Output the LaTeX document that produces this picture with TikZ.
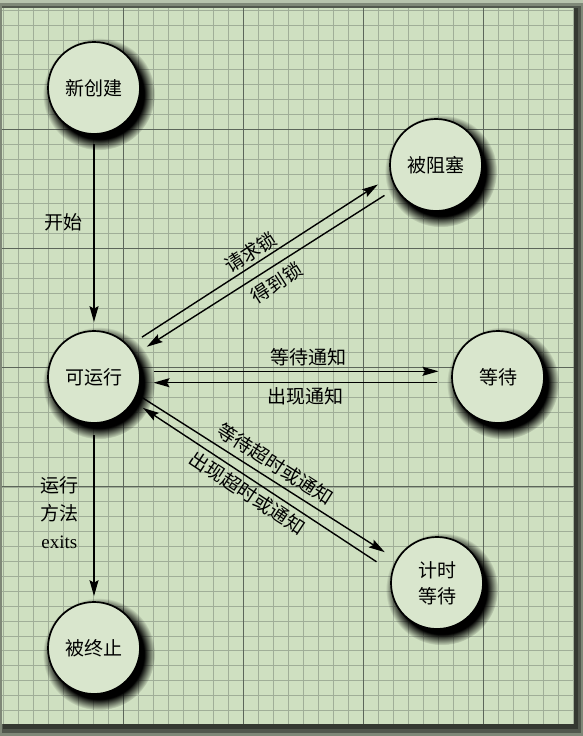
\documentclass[tikz,border=0pt]{standalone}
\usepackage{fontspec}
\setmainfont{Liberation Serif}
\newfontfamily\cjk{Noto Sans CJK SC}
\usetikzlibrary{shadows,arrows.meta}

\definecolor{paper}{RGB}{207,224,193}
\definecolor{minorline}{RGB}{160,174,152}
\definecolor{majorline}{RGB}{92,102,90}

\begin{document}
\begin{tikzpicture}[x=1pt,y=-1pt,
  >={Stealth[length=16pt,width=9pt,inset=2.5pt]},
  state/.style={circle, draw=black, line width=1.7pt, fill=paper!80!white,
    minimum size=92pt, inner sep=0pt, align=center,
    font=\cjk\fontsize{19}{26}\selectfont,
    circular drop shadow={shadow xshift=4pt, shadow yshift=-5pt, shadow scale=1.22,
      opacity=1, fill=black, path fading=circle with fuzzy edge 20 percent}},
  trans/.style={line width=1.4pt},
  lbl/.style={font=\cjk\fontsize{19}{28}\selectfont, inner sep=2pt}]
\useasboundingbox (0,0) rectangle (583,736);
\fill[paper!70!gray] (0,0) rectangle (583,736);
\fill[black, opacity=.3] (0,3) rectangle (583,736);
\fill[black, opacity=.35] (2,6) rectangle (581,733);
\fill[black, opacity=.35] (3,8) rectangle (578,729);
\fill[paper] (2,8) rectangle (574,724);
\foreach \i in {0,...,38}
  \draw[minorline, line width=.8pt] ({3+15*\i},8) -- ({3+15*\i},724);
\foreach \j in {0,...,47}
  \draw[minorline, line width=.8pt] (2,{10.1+14.9*\j}) -- (574,{10.1+14.9*\j});
\foreach \i in {8,16,24,32} {
  \draw[majorline, line width=1pt] ({3+15*\i},8) -- ({3+15*\i},724);
  \draw[majorline, line width=1pt] (2,{10.1+14.9*\i}) -- (574,{10.1+14.9*\i});
}

\node[state] (new) at (94,88) {新创建};
\node[state] (blk) at (436,165) {被阻塞};
\node[state] (run) at (94,377) {可运行};
\node[state] (wait) at (498,377) {等待};
\node[state] (tw) at (437,583) {计时\\等待};
\node[state] (term) at (94,648) {被终止};

\draw[trans, ->, shorten <=9pt, shorten >=8pt] (new) -- node[lbl, left=9pt, pos=.45] {开始} (run);
\draw[trans, ->, shorten <=11pt, shorten >=5pt] (run) -- node[lbl, left=13pt, align=center] {运行\\方法\\\rmfamily exits} (term);

\draw[trans, ->, shorten <=15.6pt, shorten >=15pt] (run.42) -- node[lbl, sloped, above=1pt, pos=.49] {请求锁} (blk.194.5);
\draw[trans, <-, shorten <=14pt, shorten >=13pt] (run.29) -- node[lbl, sloped, below=4pt, pos=.51] {得到锁} (blk.210);

\draw[trans, ->, shorten <=13pt, shorten >=13pt] (run.7) -- node[lbl, above=3pt, pos=.54] {等待通知} (wait.173);
\draw[trans, ->, shorten <=15pt, shorten >=13pt] (wait.187) -- node[lbl, below=2pt, pos=.47] {出现通知} (run.353);

\draw[trans, ->, shorten <=6.4pt, shorten >=13.8pt] (run.338) -- node[lbl, sloped, above=4pt] {等待超时或通知} (tw.150);
\draw[trans, <-, shorten <=11pt, shorten >=18pt] (run.328) -- node[lbl, sloped, below=2pt, pos=.47] {出现超时或通知} (tw.166);
\end{tikzpicture}
\end{document}
